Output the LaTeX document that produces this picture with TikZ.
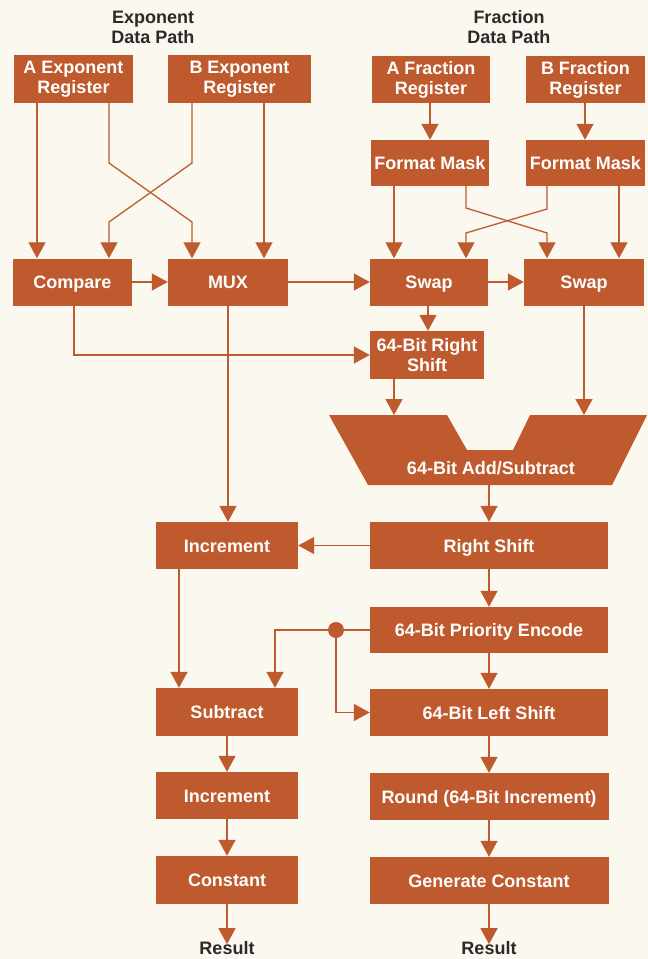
\documentclass[tikz,border=0pt]{standalone}
\usepackage{fontspec}
\setmainfont{Liberation Sans}
\usetikzlibrary{arrows.meta}
\definecolor{brn}{HTML}{BF5A2E}
\definecolor{paper}{HTML}{FBF8F0}
\definecolor{ink}{HTML}{2A2A2A}
\begin{document}
\begin{tikzpicture}[x=1pt,y=-1pt,
  blk/.style={fill=brn, text=white, inner sep=0pt, align=center,
    font=\fontsize{18}{20}\selectfont\bfseries},
  one/.style={blk, text height=13pt, text depth=0pt},
  ttl/.style={text=ink, inner sep=0pt, align=center,
    font=\fontsize{18}{20}\selectfont\bfseries},
  arr/.style={draw=brn, line width=1.3pt,
    -{Triangle[width=17pt,length=16pt]}},
  wire/.style={draw=brn, line width=1.3pt}]
\fill[paper] (0,0) rectangle (648,959);
\useasboundingbox (0,0) rectangle (648,959);

% titles
\node[ttl] (t1) at (153,27) {Exponent\\Data Path};
\node[ttl] (t2) at (509,27) {Fraction\\Data Path};

% exponent path
\node[blk, minimum width=119pt, minimum height=48pt] (aexp) at (73.5,79) {A Exponent\\Register};
\node[blk, minimum width=143pt, minimum height=48pt] (bexp) at (239.5,79) {B Exponent\\Register};
\node[one, minimum width=119pt, minimum height=47pt] (cmp) at (72.5,282) {Compare};
\node[one, minimum width=120pt, minimum height=47pt] (mux) at (228,282) {MUX};

% fraction path
\node[blk, minimum width=118pt, minimum height=47pt] (afr) at (431,79.5) {A Fraction\\Register};
\node[blk, minimum width=119pt, minimum height=47pt] (bfr) at (585.5,79.5) {B Fraction\\Register};
\node[one, minimum width=118pt, minimum height=46pt] (fma) at (430,163) {Format Mask};
\node[one, minimum width=119pt, minimum height=46pt] (fmb) at (585.5,163) {Format Mask};
\node[one, minimum width=118pt, minimum height=47pt] (swa) at (429,282) {Swap};
\node[one, minimum width=120pt, minimum height=47pt] (swb) at (584,282) {Swap};
\node[blk, minimum width=114pt, minimum height=48pt] (rsa) at (427,355) {64-Bit Right\\Shift};

% adder
\fill[brn] (329,415) -- (447,415) -- (467,450) -- (513,450) -- (530,415)
  -- (647,415) -- (612,485) -- (368,485) -- cycle;
\node[one, fill=none] (add) at (491,468) {64-Bit Add/Subtract};
\coordinate (addl) at (394,415);
\coordinate (addr) at (584,415);
\coordinate (addb) at (489,485);

% lower blocks
\node[one, minimum width=142pt, minimum height=47pt] (inca) at (227,545.5) {Increment};
\node[one, minimum width=238pt, minimum height=47pt] (rsh) at (489,545.5) {Right Shift};
\node[one, minimum width=238pt, minimum height=46pt] (pe) at (489,630) {64-Bit Priority Encode};
\node[one, minimum width=142pt, minimum height=48pt] (sub) at (227,712) {Subtract};
\node[one, minimum width=238pt, minimum height=47pt] (lsh) at (489,712.5) {64-Bit Left Shift};
\node[one, minimum width=142pt, minimum height=47pt] (incb) at (227,795.5) {Increment};
\node[one, minimum width=239pt, minimum height=47pt] (rnd) at (489,796.5) {Round (64-Bit Increment)};
\node[one, minimum width=142pt, minimum height=48pt] (cst) at (227,880) {Constant};
\node[one, minimum width=239pt, minimum height=47pt] (gen) at (489,880.5) {Generate Constant};
\node[ttl] (ra) at (227,948) {Result};
\node[ttl] (rb) at (489,948) {Result};

% exponent connectors
\draw[arr] (aexp.south -| 37,0) -- (cmp.north -| 37,0);
\draw[arr] (aexp.south -| 109,0) -- (109,163) -- (192,222) -- (mux.north -| 192,0);
\draw[arr] (bexp.south -| 192,0) -- (192,163) -- (109,222) -- (cmp.north -| 109,0);
\draw[arr] (bexp.south -| 264,0) -- (mux.north -| 264,0);
\draw[arr] (cmp.east) -- (mux.west);
\draw[arr] (mux.east) -- (swa.west);

% fraction connectors
\draw[arr] (afr.south -| 430,0) -- (fma.north -| 430,0);
\draw[arr] (bfr.south -| 585,0) -- (fmb.north -| 585,0);
\draw[arr] (fma.south -| 394,0) -- (swa.north -| 394,0);
\draw[arr] (fma.south -| 466,0) -- (466,208) -- (547,233) -- (swb.north -| 547,0);
\draw[arr] (fmb.south -| 547,0) -- (547,209) -- (466,233) -- (swa.north -| 466,0);
\draw[arr] (fmb.south -| 619,0) -- (swb.north -| 619,0);
\draw[arr] (swa.east) -- (swb.west);
\draw[arr] (swa.south -| 428,0) -- (rsa.north -| 428,0);
\draw[arr] (cmp.south -| 74,0) |- (rsa.west);
\draw[arr] (rsa.south -| addl) -- (addl);
\draw[arr] (swb.south -| addr) -- (addr);

% lower connectors
\draw[arr] (addb) -- (rsh.north -| addb);
\draw[arr] (mux.south) -- (mux.south |- inca.north);
\draw[arr] (rsh.west) -- (inca.east);
\draw[arr] (rsh.south) -- (pe.north);
\draw[arr] (pe.south) -- (lsh.north);
\draw[arr] (lsh.south) -- (rnd.north);
\draw[arr] (rnd.south) -- (gen.north);
\draw[arr] (gen.south) -- ([yshift=-3pt]rb.north);
\draw[arr] (inca.south -| 179,0) -- (sub.north -| 179,0);
\coordinate (dot) at (pe.west -| 336,0);
\draw[wire] (pe.west) -- (dot);
\draw[arr] (dot) -| (sub.north -| 275,0);
\draw[arr] (dot) |- (lsh.west);
\fill[brn] (dot) circle (8pt);
\draw[arr] (sub.south) -- (incb.north);
\draw[arr] (incb.south) -- (cst.north);
\draw[arr] (cst.south) -- ([yshift=-3pt]ra.north);
\end{tikzpicture}
\end{document}
